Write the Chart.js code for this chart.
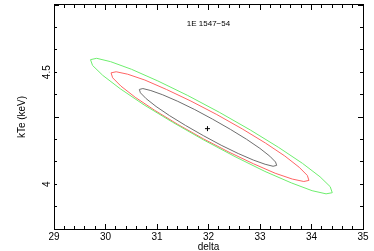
<!DOCTYPE html>
<html>
<head>
<meta charset="utf-8">
<script src="https://cdn.jsdelivr.net/npm/chart.js@4/dist/chart.umd.min.js"></script>
<style>
html,body{margin:0;padding:0;background:#fff;}
canvas{display:block;}
</style>
</head>
<body>
<canvas id="c" width="374" height="251"></canvas>
<script>
// Axis ranges / tick labels
const xRange = [29, 35];
const yRange = [3.8, 4.8];
const xTickLabels = ['29', '30', '31', '32', '33', '34', '35'];
const yTickLabels = ['4', '4.5'];
const chartTitle = '1E 1547\u221254';
const xTitle = 'delta';
const yTitle = 'kTe (keV)';

// Best fit point
const bestX = [31.98];
const bestY = [4.248];

// Inner (grey) contour
const grayX = [31.898,31.556,31.244,30.982,30.789,30.678,30.657,30.726,30.881,31.112,31.403,31.734,32.082,32.424,32.736,32.998,33.191,33.302,33.324,33.254,33.099,32.868,32.577,32.246,31.898];
const grayY = [4.217,4.262,4.306,4.347,4.382,4.408,4.423,4.427,4.418,4.399,4.370,4.333,4.290,4.245,4.201,4.160,4.125,4.099,4.084,4.080,4.089,4.108,4.137,4.174,4.217];

// Middle (red) contour
const redX = [31.897,31.404,30.954,30.577,30.299,30.139,30.108,30.207,30.431,30.764,31.183,31.659,32.161,32.654,33.104,33.481,33.759,33.919,33.950,33.851,33.627,33.294,32.875,32.399,31.897];
const redY = [4.203,4.267,4.330,4.388,4.438,4.475,4.497,4.502,4.491,4.465,4.423,4.371,4.311,4.247,4.184,4.126,4.076,4.039,4.017,4.012,4.023,4.049,4.091,4.143,4.203];

// Outer (green) contour
const greenX = [31.902,31.300,30.749,30.287,29.946,29.749,29.709,29.829,30.100,30.505,31.016,31.597,32.210,32.812,33.363,33.825,34.166,34.363,34.403,34.283,34.012,33.607,33.096,32.515,31.902];
const greenY = [4.198,4.277,4.354,4.426,4.486,4.530,4.556,4.562,4.547,4.513,4.461,4.396,4.321,4.242,4.164,4.093,4.033,3.989,3.962,3.957,3.971,4.006,4.057,4.123,4.198];

const toPts = (xs, ys) => xs.map((x, i) => ({x: x, y: ys[i]}));
const FONT = 'Liberation Sans, Arial, Helvetica, sans-serif';

function contour(xs, ys, color) {
  return {
    data: toPts(xs, ys), showLine: true, borderColor: color, backgroundColor: color,
    borderWidth: 1, pointRadius: 0, tension: 0, fill: false, xAxisID: 'x', yAxisID: 'y'
  };
}

function noPad(s) { s.paddingTop = 0; s.paddingBottom = 0; s.paddingLeft = 0; s.paddingRight = 0; }

function tickScale(pos, range, step, len, opts) {
  return Object.assign({
    type: 'linear', position: pos, min: range[0], max: range[1],
    ticks: {display: false, stepSize: step, autoSkip: false, includeBounds: false},
    grid: {drawOnChartArea: false, drawTicks: true, tickLength: len, color: '#000', lineWidth: 1},
    border: {display: false},
    afterFit: s => { if (s.isHorizontal()) s.height = 0; else s.width = 0; noPad(s); }
  }, opts || {});
}

const isMultiple = (v, m) => Math.abs(v / m - Math.round(v / m)) < 1e-6;

new Chart(document.getElementById('c'), {
  type: 'scatter',
  data: {
    datasets: [
      contour(greenX, greenY, 'rgb(110,238,110)'),
      contour(redX, redY, 'rgb(255,100,100)'),
      contour(grayX, grayY, 'rgb(110,110,110)'),
      {
        data: toPts(bestX, bestY), pointStyle: 'cross', pointRadius: 2.5,
        borderColor: '#000', backgroundColor: '#000', borderWidth: 1, showLine: false,
        xAxisID: 'x', yAxisID: 'y'
      }
    ]
  },
  options: {
    responsive: false, animation: false, devicePixelRatio: 1,
    layout: {padding: {left: 0, right: 11, top: 1, bottom: 0}},
    plugins: {
      legend: {display: false},
      tooltip: {enabled: false},
      title: {
        display: true, text: chartTitle, position: 'top', fullSize: false, color: '#000',
        font: {family: FONT, size: 8, weight: 'normal', lineHeight: 1.2},
        padding: {top: 14.2, bottom: -23.8}
      }
    },
    scales: {
      x: {
        type: 'linear', position: 'bottom', min: xRange[0], max: xRange[1],
        ticks: {
          stepSize: 0.2, autoSkip: false, maxRotation: 0, minRotation: 0, padding: 5, color: '#000',
          font: {family: FONT, size: 10},
          callback: v => isMultiple(v, 1) ? xTickLabels[Math.round(v) - xRange[0]] : ''
        },
        grid: {drawOnChartArea: false, drawTicks: true, tickLength: -3, color: '#000', lineWidth: 1},
        border: {display: true, color: '#000', width: 1},
        title: {display: true, text: xTitle, color: '#000', font: {family: FONT, size: 10}, padding: {top: 0, bottom: -2}},
        afterFit: s => { s.height = 22; noPad(s); }
      },
      xMajor: tickScale('bottom', xRange, 1, -5, {weight: -1}),
      x2: tickScale('top', xRange, 0.2, -3, {border: {display: true, color: '#000', width: 1}}),
      x2Major: tickScale('top', xRange, 1, -5, {weight: -1}),
      y: {
        type: 'linear', position: 'left', min: yRange[0], max: yRange[1],
        ticks: {
          stepSize: 0.1, autoSkip: false, minRotation: 90, maxRotation: 90, crossAlign: 'center',
          padding: 3, color: '#000', font: {family: FONT, size: 10},
          callback: v => isMultiple(v, 0.5) ? yTickLabels[Math.round((v - 4) * 2)] : ''
        },
        grid: {drawOnChartArea: false, drawTicks: true, tickLength: -3, color: '#000', lineWidth: 1},
        border: {display: true, color: '#000', width: 1},
        title: {display: true, text: yTitle, color: '#000', font: {family: FONT, size: 10}, padding: {top: 16, bottom: 0}},
        afterFit: s => { s.width = 54; noPad(s); }
      },
      yMajor: tickScale('left', yRange, 0.5, -5, {weight: -1}),
      y2: tickScale('right', yRange, 0.1, -3, {border: {display: true, color: '#000', width: 1}}),
      y2Major: tickScale('right', yRange, 0.5, -5, {weight: -1})
    }
  }
});
</script>
</body>
</html>
